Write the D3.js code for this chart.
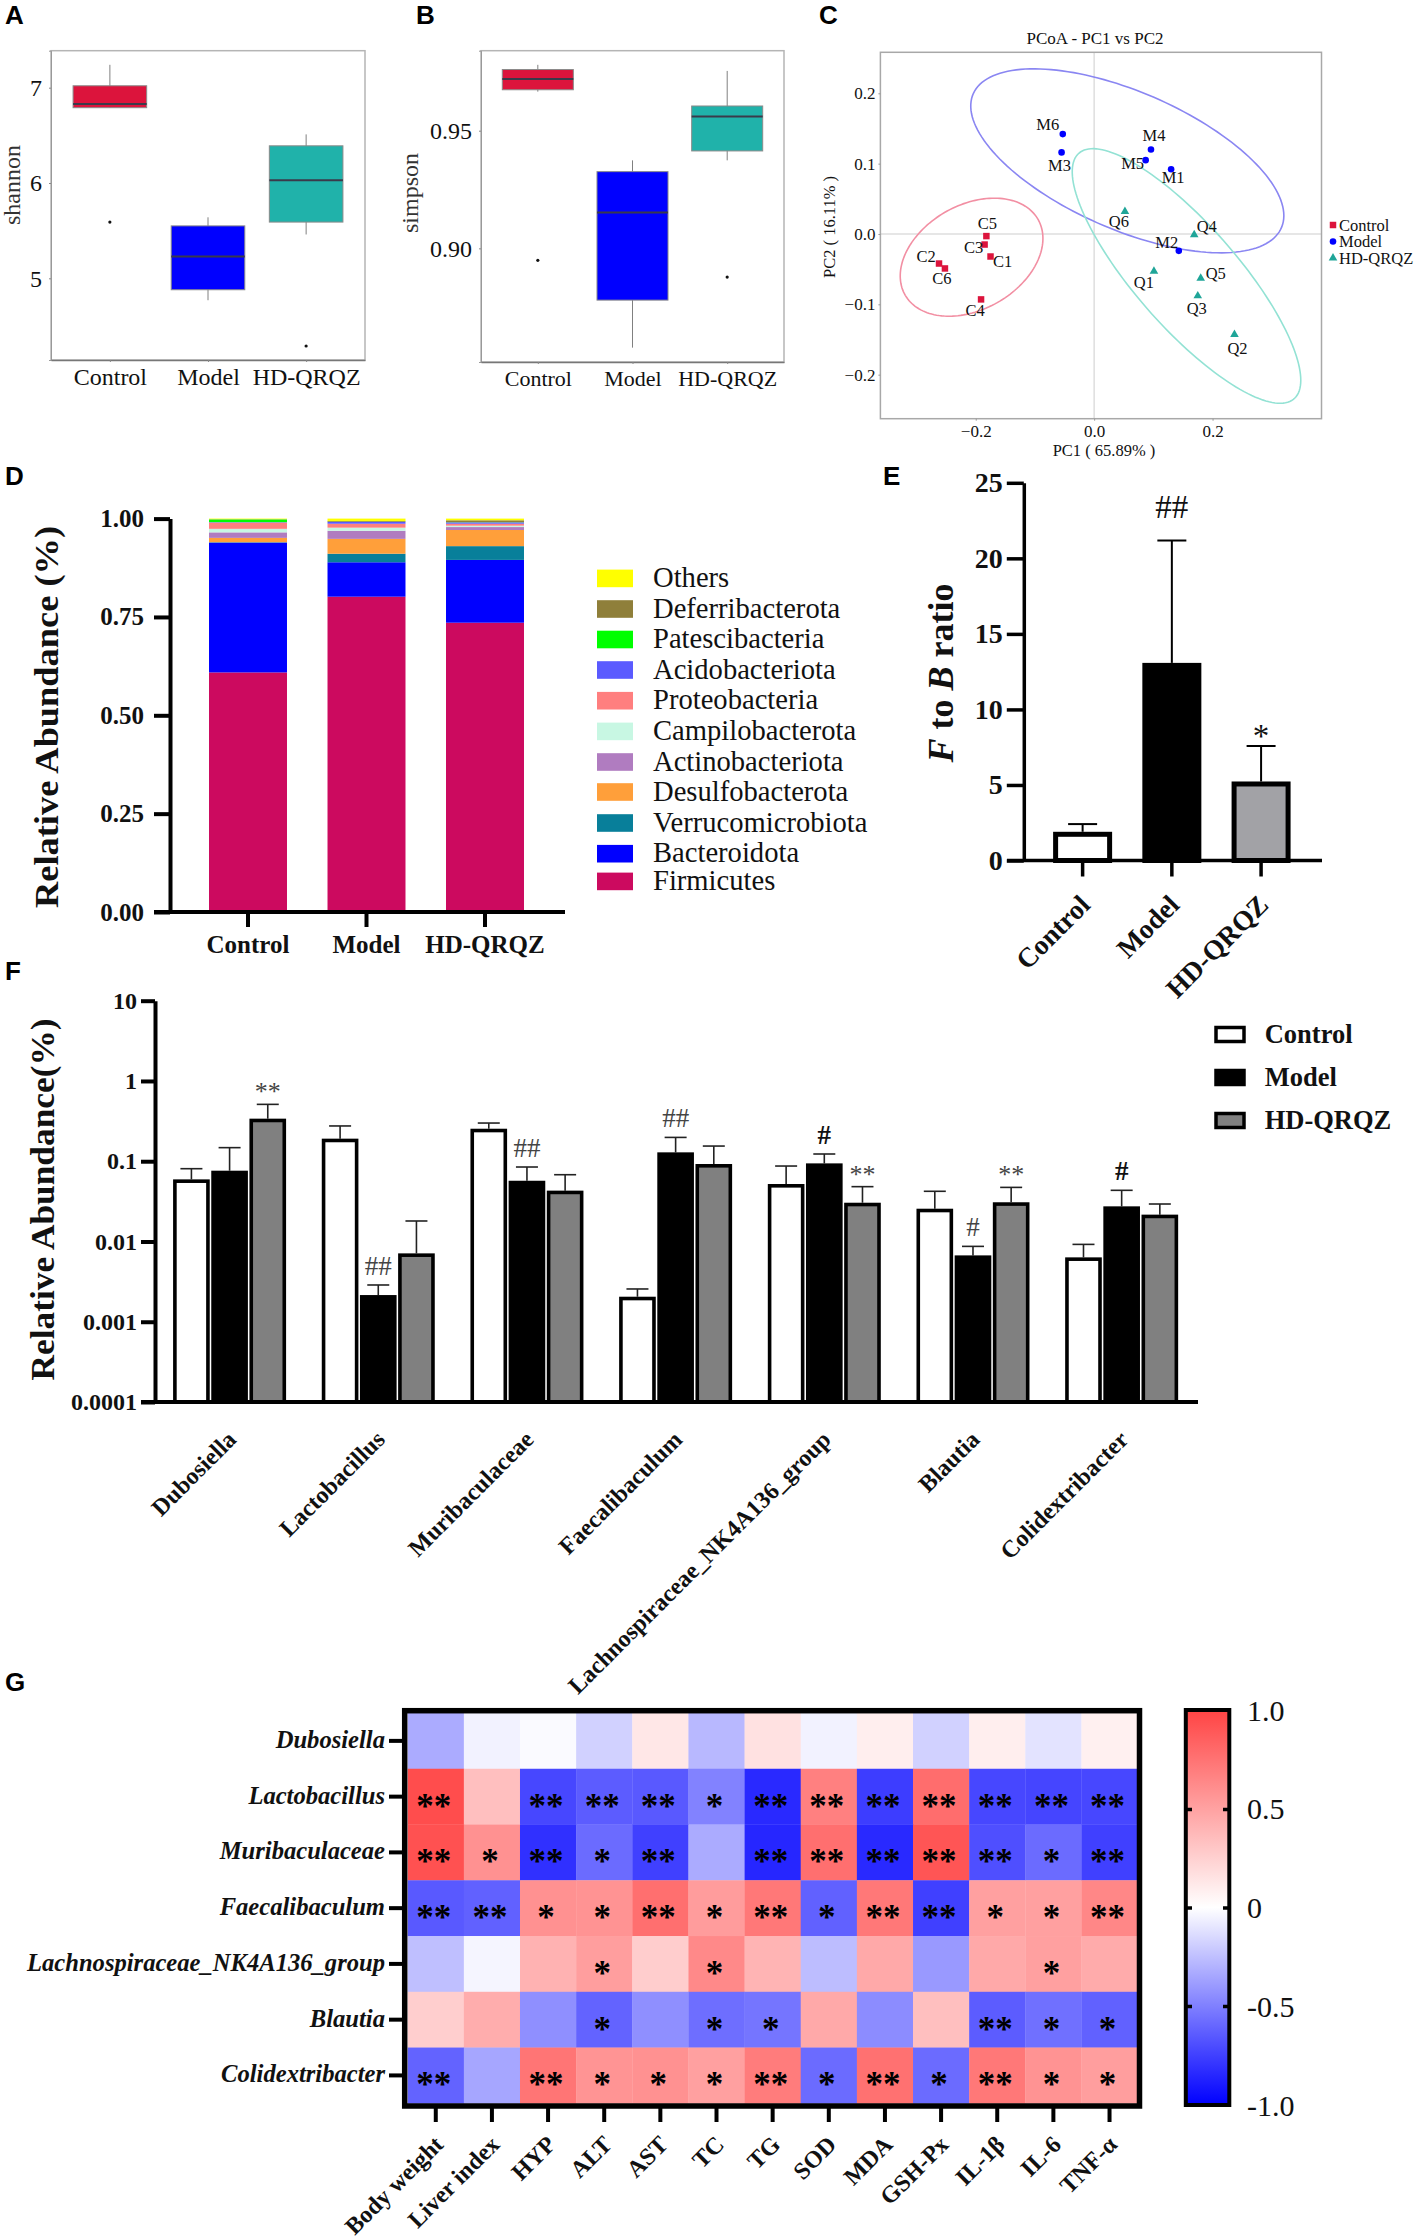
<!DOCTYPE html>
<html>
<head>
<meta charset="utf-8">
<script src="https://cdn.jsdelivr.net/npm/d3@7"></script>
<style>
  html, body { margin: 0; padding: 0; background: #fff; }
  svg { display: block; }
  text { font-family: "Liberation Serif", serif; fill: #111; }
  .letter { font-family: "Liberation Sans", sans-serif; font-weight: bold; font-size: 26px; fill: #000; }
</style>
</head>
<body>
<div id="chart"></div>
<script>
// ---- data ----
const groups = ['Control', 'Model', 'HD-QRQZ'];

// A, shannon (per group)
const shannonLow = [6.79, 4.77, 5.46];
const shannonQ1 = [6.79, 4.88, 5.59];
const shannonMedian = [6.83, 5.23, 6.03];
const shannonQ3 = [7.02, 5.55, 6.39];
const shannonHigh = [7.24, 5.64, 6.51];
const shannonOutlier = [5.59, null, 4.29];
const shannonTicks = [5, 6, 7];

// B, simpson
const simpsonLow = [0.9666, 0.8578, 0.9374];
const simpsonQ1 = [0.9674, 0.878, 0.9414];
const simpsonMedian = [0.972, 0.9152, 0.956];
const simpsonQ3 = [0.976, 0.9326, 0.9605];
const simpsonHigh = [0.978, 0.9374, 0.9754];
const simpsonOutlier = [0.8949, null, 0.8878];
const simpsonTicks = [0.90, 0.95];

// C, PCoA
const sampleNames = ['C1','C2','C3','C4','C5','C6','M1','M2','M3','M4','M5','M6','Q1','Q2','Q3','Q4','Q5','Q6'];
const sampleGroup = [0,0,0,0,0,0,1,1,1,1,1,1,2,2,2,2,2,2];
const pc1Values = [-0.175,-0.262,-0.185,-0.191,-0.182,-0.252,0.130,0.143,-0.055,0.096,0.087,-0.053,0.101,0.237,0.175,0.169,0.180,0.052];
const pc2Values = [-0.032,-0.042,-0.015,-0.093,-0.003,-0.049,0.092,-0.024,0.116,0.120,0.105,0.142,-0.053,-0.143,-0.088,-0.001,-0.063,0.032];
const ellipseCx = [-0.207, 0.056, 0.156];
const ellipseCy = [-0.033, 0.104, -0.0597];
const ellipseSx = [0.1205, 0.2644, 0.193];
const ellipseSy = [0.0839, 0.1308, 0.181];
const ellipseCorr = [0.318, -0.596, -0.819];

// D, stacked phyla, bottom to top
const phyla = ['Firmicutes','Bacteroidota','Verrucomicrobiota','Desulfobacterota','Actinobacteriota','Campilobacterota','Proteobacteria','Acidobacteriota','Patescibacteria','Deferribacterota','Others'];
const controlShares = [0.609,0.330,0.001,0.011,0.014,0.009,0.016,0.001,0.007,0.0005,0.0015];
const modelShares = [0.8015,0.0875,0.0217,0.0378,0.0205,0.008,0.010,0.0044,0.0006,0.002,0.006];
const hdShares = [0.7354,0.1596,0.035,0.041,0.0075,0.0035,0.005,0.0035,0.0005,0.0047,0.0043];
const shareTicks = [0, 0.25, 0.5, 0.75, 1];

// E, F to B ratio
const ratioMean = [1.9, 13.08, 5.23];
const ratioTip = [2.41, 21.18, 7.58];
const ratioTicks = [0, 5, 10, 15, 20, 25];

// F, genera
const genera = ['Dubosiella','Lactobacillus','Muribaculaceae','Faecalibaculum','Lachnospiraceae_NK4A136_group','Blautia','Colidextribacter'];
const controlMean = [0.0594,0.191,0.254,0.00205,0.052,0.0256,0.00634];
const controlTip = [0.0807,0.275,0.299,0.00256,0.0871,0.0422,0.0092];
const modelMean = [0.0762,0.00215,0.0571,0.129,0.094,0.00671,0.0274];
const modelTip = [0.1476,0.00287,0.0847,0.198,0.123,0.00869,0.0434];
const hdMean = [0.339,0.00711,0.043,0.0923,0.0304,0.0308,0.0216];
const hdTip = [0.511,0.018,0.0679,0.1545,0.0482,0.0472,0.0293];
const abundanceTicks = [0.0001, 0.001, 0.01, 0.1, 1, 10];
const abundanceTickLabels = ['0.0001', '0.001', '0.01', '0.1', '1', '10'];
const markGenus = [0, 1, 2, 3, 4, 4, 5, 5, 6];
const markGroup = [2, 1, 1, 1, 1, 2, 1, 2, 1];
const markText = ['**', '##', '##', '##', '#', '**', '#', '**', '#'];

// G, correlation heatmap
const metrics = ['Body weight','Liver index','HYP','ALT','AST','TC','TG','SOD','MDA','GSH-Px','IL-1β','IL-6','TNF-α'];
const corrDubosiella = [-0.33,-0.05,-0.02,-0.18,0.13,-0.28,0.16,-0.05,0.09,-0.18,0.09,-0.11,0.08];
const corrLactobacillus = [0.95,0.34,-0.72,-0.64,-0.65,-0.49,-0.84,0.68,-0.76,0.78,-0.72,-0.73,-0.72];
const corrMuribaculaceae = [0.93,0.59,-0.81,-0.58,-0.75,-0.33,-0.85,0.77,-0.84,0.91,-0.69,-0.58,-0.75];
const corrFaecalibaculum = [-0.65,-0.62,0.59,0.58,0.77,0.53,0.72,-0.62,0.72,-0.75,0.51,0.51,0.64];
const corrLachno = [-0.25,-0.04,0.41,0.52,0.27,0.63,0.40,-0.26,0.46,-0.40,0.46,0.51,0.45];
const corrBlautia = [0.26,0.44,-0.44,-0.61,-0.44,-0.57,-0.54,0.46,-0.45,0.34,-0.64,-0.56,-0.62];
const corrColidextribacter = [-0.61,-0.35,0.74,0.57,0.59,0.51,0.70,-0.58,0.76,-0.58,0.72,0.58,0.52];
const starsDubosiella = ['','','','','','','','','','','','',''];
const starsLactobacillus = ['**','','**','**','**','*','**','**','**','**','**','**','**'];
const starsMuribaculaceae = ['**','*','**','*','**','','**','**','**','**','**','*','**'];
const starsFaecalibaculum = ['**','**','*','*','**','*','**','*','**','**','*','*','**'];
const starsLachno = ['','','','*','','*','','','','','','*',''];
const starsBlautia = ['','','','*','','*','*','','','','**','*','*'];
const starsColidextribacter = ['**','','**','*','*','*','**','*','**','*','**','*','*'];
const colorbarTicks = [-1, -0.5, 0, 0.5, 1];
const colorbarLabels = ['-1.0', '-0.5', '0', '0.5', '1.0'];

// ---- styles kept apart from the values ----
const boxColors = ['#dc143c', '#0000ff', '#20b2aa'];
const pcoaColors = ['#dc143c', '#0000ff', '#1fa598'];
const ellipseColors = ['#f28fa3', '#8a86f2', '#93e2d4'];
const phylaColors = ['#cc0a5f','#0000ff','#087f9a','#ff9f3a','#b07cc0','#c8f7e3','#ff7f7f','#5a5aff','#00ff00','#8f7f3a','#ffff00'];
const barFills = ['#ffffff', '#000000', '#808080'];
const sampleLabelDx = [12,-13,-11,-6,1,-3,2,-12,-2,3,-13,-15,-10,3,-1,12.6,15,-6];
const sampleLabelDy = [5.3,-7.3,2.7,11.3,-12.7,9.7,8,-8.7,13.3,-14.3,3.3,-10,11.3,14.3,12.7,-8,-4.7,10];
const legendRowsY = [881.4,853.7,823,792,762,731.4,700.7,670,639.5,609,578.4];

const width = 1417, height = 2240;
const svg = d3.select('#chart').append('svg').attr('width', width).attr('height', height);

[['A',5,24],['B',416,24],['C',819,24],['D',5,485],['E',883,485],['F',5,980],['G',5,1691]].forEach(([t, x, y]) => {
    svg.append('text').attr('class', 'letter').attr('x', x).attr('y', y).text(t);
});

function rotatedLabel(text, x, y, size, weight, len) {
    const t = svg.append('text')
        .attr('transform', `translate(${x},${y}) rotate(-90)`)
        .attr('text-anchor', 'middle')
        .style('font-size', size + 'px')
        .style('font-weight', weight)
        .text(text);
    if (len) t.attr('textLength', len).attr('lengthAdjust', 'spacingAndGlyphs');
    return t;
}

function inkAxis(g, sw, fontSize, weight) {
    g.selectAll('path.domain').attr('stroke', '#000').attr('stroke-width', sw);
    g.selectAll('line').attr('stroke', '#000').attr('stroke-width', sw);
    g.selectAll('text')
        .style('font-family', '"Liberation Serif", serif')
        .style('font-size', fontSize + 'px')
        .style('font-weight', weight)
        .attr('fill', '#111');
}

// ---- A and B, box plots ----
function boxPanel(f, s) {
    const x = d3.scalePoint().domain(groups).range([f.x0, f.x1]).padding(0.6);
    const y = d3.scaleLinear().domain(f.domain).range([f.y1, f.y0]);
    const boxW = x.step() * 0.75;

    svg.append('rect').attr('x', f.x0).attr('y', f.y0).attr('width', f.x1 - f.x0).attr('height', f.y1 - f.y0)
        .attr('fill', 'none').attr('stroke', '#b5b5b5').attr('stroke-width', 1.5);

    const ax = svg.append('g').attr('transform', `translate(${f.x0},0)`)
        .call(d3.axisLeft(y).tickValues(s.ticks).tickSize(2).tickPadding(f.yPad).tickFormat(f.fmt));
    inkAxis(ax, 1, f.yFont, 'normal');
    ax.selectAll('path.domain').attr('stroke', '#999');
    ax.selectAll('line').attr('stroke', '#888');

    const bx = svg.append('g').attr('transform', `translate(0,${f.y1})`)
        .call(d3.axisBottom(x).tickSize(2).tickPadding(f.xPad).tickSizeOuter(0));
    inkAxis(bx, 1, f.xFont, 'normal');
    bx.selectAll('path.domain').attr('stroke', '#777').attr('stroke-width', 1.5);
    bx.selectAll('line').attr('stroke', '#888');

    groups.forEach((g, i) => {
        const cx = x(g);
        svg.append('line').attr('x1', cx).attr('x2', cx).attr('y1', y(s.high[i])).attr('y2', y(s.low[i]))
            .attr('stroke', '#808080').attr('stroke-width', 1);
        svg.append('rect').attr('x', cx - boxW / 2).attr('width', boxW)
            .attr('y', y(s.q3[i])).attr('height', y(s.q1[i]) - y(s.q3[i]))
            .attr('fill', boxColors[i]).attr('stroke', '#8a8a8a').attr('stroke-width', 1);
        svg.append('line').attr('x1', cx - boxW / 2).attr('x2', cx + boxW / 2)
            .attr('y1', y(s.median[i])).attr('y2', y(s.median[i]))
            .attr('stroke', '#3a3a4a').attr('stroke-width', 2);
        if (s.outlier[i] !== null) {
            svg.append('circle').attr('cx', cx).attr('cy', y(s.outlier[i])).attr('r', 1.6).attr('fill', '#111');
        }
    });
}

boxPanel({x0: 51, x1: 365, y0: 50.7, y1: 360, domain: [4.143, 7.388], yFont: 24, xFont: 24, yPad: 7, xPad: 6, fmt: d3.format('d')},
    {ticks: shannonTicks, low: shannonLow, q1: shannonQ1, median: shannonMedian, q3: shannonQ3, high: shannonHigh, outlier: shannonOutlier});
boxPanel({x0: 481, x1: 784, y0: 50.7, y1: 362, domain: [0.8517, 0.984], yFont: 24, xFont: 22, yPad: 7, xPad: 6, fmt: d3.format('.2f')},
    {ticks: simpsonTicks, low: simpsonLow, q1: simpsonQ1, median: simpsonMedian, q3: simpsonQ3, high: simpsonHigh, outlier: simpsonOutlier});
rotatedLabel('shannon', 20, 185, 24, 'normal').style('fill', '#333');
rotatedLabel('simpson', 418, 193, 24, 'normal').style('fill', '#333');

// ---- C, PCoA ----
(function pcoa() {
    const x = d3.scaleLinear().domain([-0.361, 0.384]).range([880.4, 1321.5]);
    const y = d3.scaleLinear().domain([-0.2626, 0.2583]).range([418.7, 52.3]);

    svg.append('line').attr('x1', x.range()[0]).attr('x2', x.range()[1]).attr('y1', y(0)).attr('y2', y(0))
        .attr('stroke', '#dedede').attr('stroke-width', 1.5);
    svg.append('line').attr('x1', x(0)).attr('x2', x(0)).attr('y1', y.range()[0]).attr('y2', y.range()[1])
        .attr('stroke', '#dedede').attr('stroke-width', 1.5);
    svg.append('rect').attr('x', 880.4).attr('y', 52.3).attr('width', 441.1).attr('height', 366.4)
        .attr('fill', 'none').attr('stroke', '#a8a8a8').attr('stroke-width', 1.5);

    const ax = svg.append('g').attr('transform', 'translate(880.4,0)')
        .call(d3.axisLeft(y).tickValues([-0.2, -0.1, 0, 0.1, 0.2]).tickSize(2).tickPadding(3).tickFormat(d3.format('.1f')));
    inkAxis(ax, 1, 17, 'normal');
    ax.selectAll('path.domain').attr('stroke', 'none');
    ax.selectAll('line').attr('stroke', '#999');
    const bx = svg.append('g').attr('transform', 'translate(0,418.7)')
        .call(d3.axisBottom(x).tickValues([-0.2, 0, 0.2]).tickSize(2).tickPadding(4).tickFormat(d3.format('.1f')));
    inkAxis(bx, 1, 17, 'normal');
    bx.selectAll('path.domain').attr('stroke', 'none');
    bx.selectAll('line').attr('stroke', '#999');

    // group ellipses from centre, half extents and correlation
    const ring = d3.line().curve(d3.curveLinearClosed);
    groups.forEach((g, i) => {
        const phase = Math.acos(ellipseCorr[i]);
        const pts = d3.range(0, Math.PI * 2, 0.04).map(t => [
            x(ellipseCx[i] + ellipseSx[i] * Math.cos(t)),
            y(ellipseCy[i] + ellipseSy[i] * Math.cos(t - phase))
        ]);
        svg.append('path').attr('d', ring(pts)).attr('fill', 'none')
            .attr('stroke', ellipseColors[i]).attr('stroke-width', 1.6);
    });

    const symbolTypes = [d3.symbolSquare, d3.symbolCircle, d3.symbolTriangle];
    const symbolSizes = [42, 34, 32];
    sampleNames.forEach((name, i) => {
        const g = sampleGroup[i];
        const px = x(pc1Values[i]), py = y(pc2Values[i]);
        svg.append('path').attr('transform', `translate(${px},${py})`)
            .attr('d', d3.symbol().type(symbolTypes[g]).size(symbolSizes[g])())
            .attr('fill', pcoaColors[g]);
        svg.append('text').attr('x', px + sampleLabelDx[i]).attr('y', py + sampleLabelDy[i] + 5.5)
            .attr('text-anchor', 'middle').style('font-size', '16.5px').text(name);
    });

    svg.append('text').attr('x', 1095).attr('y', 44).attr('text-anchor', 'middle').style('font-size', '17px').text('PCoA - PC1 vs PC2');
    svg.append('text').attr('x', 1104).attr('y', 456).attr('text-anchor', 'middle').style('font-size', '16.5px').text('PC1 ( 65.89% )');
    rotatedLabel('PC2 ( 16.11% )', 835, 227, 16.5, 'normal');

    groups.forEach((g, i) => {
        const ly = d3.scalePoint().domain(groups).range([225, 258])(g);
        svg.append('path').attr('transform', `translate(1333,${ly})`)
            .attr('d', d3.symbol().type(symbolTypes[i]).size(symbolSizes[i])())
            .attr('fill', pcoaColors[i]);
        svg.append('text').attr('x', 1339).attr('y', ly + 5.5).style('font-size', '16.5px').text(g);
    });
})();

// ---- D, stacked bars ----
(function stacked() {
    const x = d3.scaleBand().domain(groups).range([188.75, 544.25]).paddingInner(0.342).paddingOuter(0.171);
    const y = d3.scaleLinear().domain([0, 1]).range([912, 518.6]);
    const rows = [controlShares, modelShares, hdShares];
    const layers = d3.stack().keys(d3.range(phyla.length))(rows);

    svg.append('g').selectAll('g').data(layers).enter().append('g')
        .attr('fill', (d, i) => phylaColors[i])
        .selectAll('rect').data(d => d).enter().append('rect')
        .attr('x', (d, i) => x(groups[i]))
        .attr('width', x.bandwidth())
        .attr('y', d => y(d[1]))
        .attr('height', d => y(d[0]) - y(d[1]));

    const ax = svg.append('g').attr('transform', 'translate(170,0)')
        .call(d3.axisLeft(y).tickValues(shareTicks).tickSize(16).tickSizeOuter(0).tickPadding(10).tickFormat(d3.format('.2f')));
    inkAxis(ax, 4, 25, 'bold');
    const bx = svg.append('g').attr('transform', 'translate(0,912)')
        .call(d3.axisBottom(x).tickSize(15).tickSizeOuter(0).tickPadding(8));
    inkAxis(bx, 4, 25, 'bold');
    bx.select('path.domain').attr('d', 'M154,0H565');

    rotatedLabel('Relative Abundance (%)', 58, 717, 33, 'bold', 382);

    phyla.forEach((p, i) => {
        svg.append('rect').attr('x', 597).attr('y', legendRowsY[i] - 8.8).attr('width', 36).attr('height', 17.6)
            .attr('fill', phylaColors[i]);
        svg.append('text').attr('x', 653).attr('y', legendRowsY[i] + 8.5).style('font-size', '28.6px').text(p);
    });
})();

// ---- E, F to B ratio ----
(function ratio() {
    const x = d3.scaleBand().domain(groups).range([1038, 1305.7]);
    const y = d3.scaleLinear().domain([0, 25]).range([860.5, 482.8]);
    const barW = 54, sw = 5;

    groups.forEach((g, i) => {
        const cx = x(g) + x.bandwidth() / 2;
        svg.append('line').attr('x1', cx).attr('x2', cx).attr('y1', y(ratioMean[i])).attr('y2', y(ratioTip[i]))
            .attr('stroke', '#000').attr('stroke-width', 2);
        svg.append('line').attr('x1', cx - 14.5).attr('x2', cx + 14.5).attr('y1', y(ratioTip[i])).attr('y2', y(ratioTip[i]))
            .attr('stroke', '#000').attr('stroke-width', 2);
        svg.append('rect').attr('x', cx - barW / 2).attr('width', barW)
            .attr('y', y(ratioMean[i]) + sw / 2).attr('height', y(0) - y(ratioMean[i]) - sw / 2)
            .attr('fill', i === 2 ? '#a2a2a6' : barFills[i]).attr('stroke', '#000').attr('stroke-width', sw);
    });

    const ax = svg.append('g').attr('transform', 'translate(1023.8,0)')
        .call(d3.axisLeft(y).tickValues(ratioTicks).tickSize(17).tickSizeOuter(0).tickPadding(4));
    inkAxis(ax, 3.5, 28, 'bold');
    const bx = svg.append('g').attr('transform', 'translate(0,860.5)')
        .call(d3.axisBottom(x).tickSize(16).tickSizeOuter(0));
    inkAxis(bx, 3.5, 27.5, 'bold');
    bx.select('path.domain').attr('d', 'M1007,0H1322');
    bx.selectAll('text').attr('x', 0).attr('y', 0).attr('dy', 0).attr('text-anchor', 'end')
        .attr('transform', 'translate(9,46) rotate(-45)');

    const lab = rotatedLabel('', 953, 673, 36, 'bold');
    lab.append('tspan').style('font-style', 'italic').text('F');
    lab.append('tspan').text(' to ');
    lab.append('tspan').style('font-style', 'italic').text('B');
    lab.append('tspan').text(' ratio');

    const cxModel = x('Model') + x.bandwidth() / 2, cxHd = x('HD-QRQZ') + x.bandwidth() / 2;
    svg.append('text').attr('x', cxModel).attr('y', y(ratioTip[1]) - 23).attr('text-anchor', 'middle').style('font-size', '33px').text('##');
    svg.append('text').attr('x', cxHd).attr('y', y(ratioTip[2]) + 1).attr('text-anchor', 'middle').style('font-size', '33px').text('*');
})();

// ---- F, log bars by genus ----
(function genusBars() {
    const x0 = d3.scaleBand().domain(genera).range([155.25, 1196]).paddingInner(0.24).paddingOuter(0.12);
    const x1 = d3.scaleBand().domain(d3.range(3)).range([0, x0.bandwidth()]).paddingInner(0.04);
    const y = d3.scaleLog().domain([0.0001, 10]).range([1402, 1000.7]);
    const means = [controlMean, modelMean, hdMean];
    const tips = [controlTip, modelTip, hdTip];
    const sw = 3.6;

    genera.forEach((g, gi) => {
        d3.range(3).forEach(s => {
            const bx = x0(g) + x1(s), bw = x1.bandwidth(), cx = bx + bw / 2;
            svg.append('line').attr('x1', cx).attr('x2', cx).attr('y1', y(means[s][gi])).attr('y2', y(tips[s][gi]))
                .attr('stroke', '#222').attr('stroke-width', 1.6);
            svg.append('line').attr('x1', cx - 11).attr('x2', cx + 11).attr('y1', y(tips[s][gi])).attr('y2', y(tips[s][gi]))
                .attr('stroke', '#222').attr('stroke-width', 1.6);
            svg.append('rect').attr('x', bx + sw / 2).attr('width', bw - sw)
                .attr('y', y(means[s][gi]) + sw / 2).attr('height', y(0.0001) - y(means[s][gi]) - sw / 2)
                .attr('fill', barFills[s]).attr('stroke', '#000').attr('stroke-width', sw);
        });
    });

    markText.forEach((m, i) => {
        const s = markGroup[i], gi = markGenus[i];
        const cx = x0(genera[gi]) + x1(s) + x1.bandwidth() / 2;
        const strong = m === '#' && gi !== 5;
        svg.append('text').attr('x', cx).attr('y', y(tips[s][gi]) - (m[0] === '*' ? 4 : 10))
            .attr('text-anchor', 'middle')
            .style('font-size', m[0] === '*' ? '26px' : '27px')
            .style('font-weight', strong ? 'bold' : 'normal')
            .style('fill', strong ? '#111' : '#444')
            .text(m);
    });

    const ax = svg.append('g').attr('transform', 'translate(155,0)')
        .call(d3.axisLeft(y).tickValues(abundanceTicks).tickSize(14).tickSizeOuter(0).tickPadding(4)
            .tickFormat((d, i) => abundanceTickLabels[i]));
    inkAxis(ax, 4, 24, 'bold');
    const bx = svg.append('g').attr('transform', 'translate(0,1402)')
        .call(d3.axisBottom(x0).tickSize(0).tickSizeOuter(0));
    inkAxis(bx, 4, 24, 'bold');
    bx.select('path.domain').attr('d', 'M141,0H1198');
    bx.selectAll('text').attr('x', 0).attr('y', 0).attr('dy', 0).attr('text-anchor', 'end')
        .attr('transform', 'translate(8,39) rotate(-45)');

    rotatedLabel('Relative Abundance(%)', 54, 1199.5, 33, 'bold', 362);

    groups.forEach((g, i) => {
        const ly = d3.scalePoint().domain(groups).range([1034.5, 1120.5])(g);
        svg.append('rect').attr('x', 1216).attr('y', ly - 7).attr('width', 28).attr('height', 14)
            .attr('fill', barFills[i]).attr('stroke', '#000').attr('stroke-width', 3.5);
        svg.append('text').attr('x', 1264.7).attr('y', ly + 8.5)
            .style('font-size', '26.5px').style('font-weight', 'bold').text(g);
    });
})();

// ---- G, heatmap ----
(function heatmap() {
    const corrRows = [corrDubosiella, corrLactobacillus, corrMuribaculaceae, corrFaecalibaculum, corrLachno, corrBlautia, corrColidextribacter];
    const starRows = [starsDubosiella, starsLactobacillus, starsMuribaculaceae, starsFaecalibaculum, starsLachno, starsBlautia, starsColidextribacter];
    const x = d3.scaleBand().domain(metrics).range([407.7, 1137.6]);
    const y = d3.scaleBand().domain(genera).range([1713, 2103.3]);
    const color = d3.scaleLinear().domain([-1, 0, 1]).range(['#0000ff', '#ffffff', '#ff4444']);

    genera.forEach((g, r) => {
        metrics.forEach((m, c) => {
            svg.append('rect').attr('x', x(m)).attr('y', y(g))
                .attr('width', x.bandwidth() + 0.3).attr('height', y.bandwidth() + 0.3)
                .attr('fill', color(corrRows[r][c]));
            if (starRows[r][c]) {
                svg.append('text').attr('x', x(m) + x.bandwidth() / 2 - 2).attr('y', y(g) + y.bandwidth() / 2 + 21)
                    .attr('text-anchor', 'middle').style('font-size', '35px').style('font-weight', 'bold').style('fill', '#000')
                    .text(starRows[r][c]);
            }
        });
    });

    svg.append('rect').attr('x', 404.7).attr('y', 1710.7).attr('width', 734.8).attr('height', 395.3)
        .attr('fill', 'none').attr('stroke', '#000').attr('stroke-width', 5.5);

    const ax = svg.append('g').attr('transform', 'translate(402,0)')
        .call(d3.axisLeft(y).tickSize(13).tickSizeOuter(0).tickPadding(4));
    inkAxis(ax, 4, 24.6, 'bold');
    ax.select('path.domain').attr('stroke', 'none');
    ax.selectAll('text').style('font-style', 'italic').attr('dy', '0.28em');

    const bx = svg.append('g').attr('transform', 'translate(0,2108)')
        .call(d3.axisBottom(x).tickSize(14).tickSizeOuter(0));
    inkAxis(bx, 4, 24, 'bold');
    bx.select('path.domain').attr('stroke', 'none');
    bx.selectAll('text').attr('x', 0).attr('y', 0).attr('dy', 0).attr('text-anchor', 'end')
        .attr('transform', 'translate(9,38) rotate(-45)');

    // colour bar
    const c = d3.scaleLinear().domain([-1, 1]).range([2105, 1711]);
    const grad = svg.append('defs').append('linearGradient').attr('id', 'corrRamp')
        .attr('x1', 0).attr('x2', 0).attr('y1', 1).attr('y2', 0);
    [-1, 0, 1].forEach(v => {
        grad.append('stop').attr('offset', (v + 1) / 2).attr('stop-color', color(v));
    });
    svg.append('rect').attr('x', 1185.8).attr('y', 1710).attr('width', 43.5).attr('height', 395)
        .attr('fill', 'url(#corrRamp)').attr('stroke', '#000').attr('stroke-width', 4);

    const tickSel = svg.append('g').selectAll('g').data(colorbarTicks.slice(1, 4)).enter().append('g');
    tickSel.append('line').attr('x1', 1185.8).attr('x2', 1192).attr('y1', d => c(d)).attr('y2', d => c(d))
        .attr('stroke', '#000').attr('stroke-width', 3.5);
    tickSel.append('line').attr('x1', 1223).attr('x2', 1229.3).attr('y1', d => c(d)).attr('y2', d => c(d))
        .attr('stroke', '#000').attr('stroke-width', 3.5);
    colorbarTicks.forEach((v, i) => {
        svg.append('text').attr('x', 1247).attr('y', c(v) + 9.5 + (v < 0 ? 1 : 0)).style('font-size', '30px').text(colorbarLabels[i]);
    });
})();
</script>
</body>
</html>
